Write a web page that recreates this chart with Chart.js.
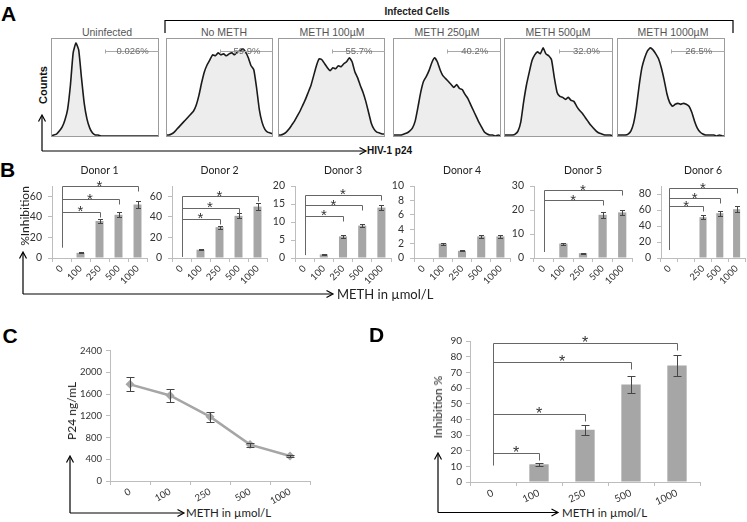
<!DOCTYPE html>
<html>
<head>
<meta charset="utf-8">
<title>METH inhibition of HIV-1 p24</title>
<script src="https://cdn.jsdelivr.net/npm/chart.js@4.4.1/dist/chart.umd.min.js"></script>
<style>
  html, body { margin: 0; padding: 0; background: #fff; }
  #fig { position: relative; width: 747px; height: 522px; overflow: hidden; }
  #fig canvas { position: absolute; }
  #fig svg { position: absolute; left: 0; top: 0; }
  .lbl { position: absolute; white-space: nowrap; line-height: 1; font-family: Lato, "Liberation Sans", sans-serif; color: #222; }
  .c { transform: translate(-50%, -50%); }
  .l { transform: translate(0, -50%); }
  .v { transform: translate(-50%, -50%) rotate(-90deg); }
  .big { font-family: "Liberation Sans", Arial, sans-serif; font-weight: bold; font-size: 21px; color: #000; }
  .ar { font-family: "Liberation Sans", Arial, sans-serif; }
</style>
</head>
<body>
<div id="fig">
<svg width="747" height="522" fill="none" stroke="#000" stroke-width="1.2">
  <path d="M165 33V20.5H733V33"/>
  <path d="M42 151V116M42 151H365"/>
  <path d="M38.5 121.5L42 115L45.5 121.5M359.5 147.5L366 151L359.5 154.5"/>
  <path d="M23 294V253M23 294H332"/>
  <path d="M19.5 258.5L23 252L26.5 258.5M326.5 290.5L333 294L326.5 297.5"/>
  <path d="M70 513V457M70 513H183"/>
  <path d="M66.5 462.5L70 456L73.5 462.5M177.5 509.5L184 513L177.5 516.5"/>
  <path d="M438 512.5V454M438 512.5H557"/>
  <path d="M434.5 459.5L438 453L441.5 459.5M551.5 509L558 512.5L551.5 516"/>
</svg>
</div>
<script>
// ---------- data ----------
const flowTitles = ['Uninfected', 'No METH', 'METH 100µM', 'METH 250µM', 'METH 500µM', 'METH 1000µM'];
const flowPercents = ['0.026%', '59.9%', '55.7%', '40.2%', '32.0%', '26.5%'];

// histogram heights (% of box height), 40 bins across the HIV-1 p24 axis
const histUninfected = [1, 2, 3, 6, 10, 17, 28, 52, 85, 95, 88, 60, 34, 18, 9, 4, 2, 2, 1, 1,
                        1, 1, 1, 1, 1, 1, 1, 1, 1, 1, 1, 1, 1, 1, 1, 1, 1, 1, 1, 1];
const histNoMeth = [2, 2, 3, 5, 8, 11, 14, 17, 20, 23, 26, 32, 42, 55, 66, 73, 78, 83, 82, 85,
                    83, 84, 82, 84, 85, 83, 86, 87, 89, 86, 80, 72, 68, 50, 28, 15, 8, 5, 4, 3];
const hist100 = [2, 2, 3, 5, 8, 12, 16, 21, 26, 32, 38, 45, 52, 62, 72, 79, 78, 74, 70, 67,
                 70, 69, 72, 71, 74, 76, 80, 76, 66, 60, 52, 45, 36, 25, 14, 8, 5, 4, 3, 3];
const hist250 = [2, 2, 2, 2, 3, 4, 6, 9, 16, 30, 45, 56, 61, 67, 75, 80, 76, 68, 62, 59,
                 56, 53, 50, 53, 49, 48, 43, 39, 33, 27, 21, 15, 10, 5, 3, 2, 2, 1, 2, 1];
const hist500 = [2, 2, 2, 2, 3, 6, 15, 35, 52, 65, 77, 83, 86, 84, 90, 84, 82, 78, 60, 45,
                 41, 40, 38, 40, 37, 36, 31, 27, 24, 20, 16, 12, 9, 6, 4, 3, 2, 2, 2, 1];
const hist1000 = [2, 2, 2, 2, 3, 6, 14, 30, 52, 70, 80, 87, 90, 88, 84, 79, 70, 58, 44, 35,
                  31, 33, 34, 33, 34, 33, 31, 25, 16, 9, 5, 3, 2, 2, 2, 2, 1, 2, 1, 1];
const gateStart = 19.5;   // bin where the p24+ gate begins
const gateLevel = 87;

const methDoses = ['0', '100', '250', '500', '1000'];
const donor6Doses = ['0', '', '250', '500', '1000'];
const donorNames = ['Donor 1', 'Donor 2', 'Donor 3', 'Donor 4', 'Donor 5', 'Donor 6'];

const donor1 = [0, 5, 36, 42, 52];
const donor1Err = [0, 0.4, 2, 2.5, 3];
const donor2 = [0, 8, 30, 41, 50];
const donor2Err = [0, 0.4, 1.5, 2.5, 3];
const donor3 = [0, 1, 6, 9, 14];
const donor3Err = [0, 0.1, 0.4, 0.5, 0.8];
const donor4 = [0, 2, 1, 3, 3];
const donor4Err = [0, 0.15, 0.05, 0.2, 0.2];
const donor5 = [0, 6, 2, 18, 19];
const donor5Err = [0, 0.4, 0.2, 1.2, 1];
const donor6 = [0, 0, 51, 56, 61];
const donor6Err = [0, 0, 2.5, 3, 3.5];

const donor1Ticks = [0, 20, 40, 60];
const donor2Ticks = [0, 20, 40, 60];
const donor3Ticks = [0, 5, 10, 15, 20];
const donor4Ticks = [0, 2, 4, 6, 8, 10];
const donor5Ticks = [0, 10, 20, 30];
const donor6Ticks = [0, 20, 40, 60, 80];
const donorMax = [70, 70, 20, 10, 30, 90];

// significance brackets: [dose index, bracket height]
const donor1Sig = [[2, 45], [3, 57], [4, 70]];
const donor2Sig = [[2, 38], [3, 49], [4, 60]];
const donor3Sig = [[2, 11.7], [3, 14.7], [4, 17.6]];
const donor4Sig = [];
const donor5Sig = [[3, 24], [4, 28.3]];
const donor6Sig = [[2, 65], [3, 75], [4, 87]];
const donorSigBase = [10, 1, 0.8, 0, 2.5, 10];

const p24 = [1780, 1575, 1185, 670, 460];
const p24Err = [130, 120, 90, 35, 20];
const p24Ticks = [0, 400, 800, 1200, 1600, 2000, 2400];

const inhibition = [0, 11.3, 33.4, 62.3, 74.3];
const inhibitionErr = [0, 0.9, 3.2, 5.6, 6.9];
const inhibitionTicks = [0, 10, 20, 30, 40, 50, 60, 70, 80, 90];
const inhibitionSig = [[1, 18.7], [2, 43.6], [3, 76.6], [4, 88.7]];

// ---------- layout ----------
const fig = document.getElementById('fig');
Chart.defaults.font.family = 'Lato';
Chart.defaults.color = '#333';

function text(str, x, y, cls, css) {
  const d = document.createElement('div');
  d.className = 'lbl ' + cls;
  d.textContent = str;
  d.style.left = x + 'px';
  d.style.top = y + 'px';
  if (css) d.style.cssText += css;
  fig.appendChild(d);
}

function canvasFor(a, yW, xH, padT, padR) {
  const c = document.createElement('canvas');
  const w = a.r - a.l + yW + padR, h = a.b - a.t + padT + xH;
  c.width = w; c.height = h;
  c.style.left = (a.l - yW) + 'px';
  c.style.top = (a.t - padT) + 'px';
  c.style.width = w + 'px';
  c.style.height = h + 'px';
  fig.appendChild(c);
  return c;
}

// ---------- plugins ----------
const flowBox = {
  id: 'flowBox',
  afterDraw(chart, args, o) {
    const a = chart.chartArea, ctx = chart.ctx, xs = chart.scales.x, ys = chart.scales.y;
    ctx.save();
    ctx.strokeStyle = '#9c9c9c';
    ctx.lineWidth = 1;
    ctx.strokeRect(a.left + 0.5, a.top + 0.5, a.right - a.left - 1, a.bottom - a.top - 1);
    const gy = Math.round(ys.getPixelForValue(o.level)) + 0.5;
    const gx = Math.round(xs.getPixelForValue(o.start)) + 0.5;
    ctx.strokeStyle = '#a8a8a8';
    ctx.beginPath();
    ctx.moveTo(gx, gy); ctx.lineTo(a.right, gy);
    ctx.moveTo(gx, gy - 2); ctx.lineTo(gx, gy + 2);
    ctx.stroke();
    ctx.fillStyle = '#6a6a6a';
    ctx.font = '9.5px "Liberation Sans"';
    ctx.textAlign = 'center';
    ctx.textBaseline = 'middle';
    ctx.fillText(o.label, xs.getPixelForValue(o.labelAt), gy);
    ctx.restore();
  }
};

const errorBars = {
  id: 'errorBars',
  afterDatasetsDraw(chart, args, o) {
    const meta = chart.getDatasetMeta(0), ys = chart.scales.y, ctx = chart.ctx;
    ctx.save();
    ctx.strokeStyle = o.color;
    ctx.lineWidth = 1;
    chart.data.datasets[0].data.forEach((v, i) => {
      const e = o.errs[i];
      if (!e) return;
      const x = Math.round(meta.data[i].x) + 0.5;
      const y1 = Math.round(ys.getPixelForValue(v + e)) + 0.5;
      const y2 = Math.round(ys.getPixelForValue(v - e)) + 0.5;
      ctx.beginPath();
      ctx.moveTo(x, y1); ctx.lineTo(x, y2);
      ctx.moveTo(x - o.cap, y1); ctx.lineTo(x + o.cap, y1);
      ctx.moveTo(x - o.cap, y2); ctx.lineTo(x + o.cap, y2);
      ctx.stroke();
    });
    ctx.restore();
  }
};

const sigBrackets = {
  id: 'sigBrackets',
  afterDatasetsDraw(chart, args, o) {
    if (!o.items || !o.items.length) return;
    const xs = chart.scales.x, ys = chart.scales.y, ctx = chart.ctx;
    const x0 = Math.round(xs.getPixelForValue(0)) + 0.5;
    const top = Math.max(...o.items.map(s => s[1]));
    ctx.save();
    ctx.strokeStyle = o.color;
    ctx.lineWidth = 1;
    ctx.beginPath();
    ctx.moveTo(x0, ys.getPixelForValue(o.base));
    ctx.lineTo(x0, Math.round(ys.getPixelForValue(top)) + 0.5);
    o.items.forEach(([idx, lvl]) => {
      const yl = Math.round(ys.getPixelForValue(lvl)) + 0.5;
      const xi = Math.round(xs.getPixelForValue(idx)) + 0.5;
      ctx.moveTo(x0, yl); ctx.lineTo(xi, yl); ctx.lineTo(xi, yl + o.drop);
    });
    ctx.stroke();
    ctx.fillStyle = '#333';
    ctx.font = o.starFont;
    ctx.textAlign = 'center';
    ctx.textBaseline = 'alphabetic';
    o.items.forEach(([idx, lvl]) => {
      const xm = (xs.getPixelForValue(0) + xs.getPixelForValue(idx)) / 2;
      ctx.fillText('*', xm, ys.getPixelForValue(lvl) + o.starDy);
    });
    ctx.restore();
  }
};

function xAxis(s) {
  return {
    afterFit: a => { a.height = s.xH; },
    offset: true,
    grid: { offset: true, drawOnChartArea: false, tickLength: 4, color: '#bdbdbd' },
    border: { color: '#bdbdbd' },
    ticks: { autoSkip: false, minRotation: s.rot, maxRotation: s.rot, font: { size: s.xFont }, color: '#333', padding: 1 }
  };
}

function yAxis(max, ticks, s) {
  return {
    min: 0, max: max,
    afterBuildTicks: a => { a.ticks = ticks.map(v => ({ value: v })); },
    afterFit: a => { a.width = s.yW; },
    grid: { drawOnChartArea: false, tickLength: 4, color: '#bdbdbd' },
    border: { color: '#bdbdbd' },
    ticks: { autoSkip: false, font: { size: s.yFont }, color: '#333', padding: s.yPad, callback: v => String(v) }
  };
}

function baseOpts(s, max, ticks, errs, cap, sig, base) {
  return {
    responsive: false, animation: false, devicePixelRatio: 1,
    layout: { padding: { top: s.padT, right: s.padR, left: 0, bottom: 0 } },
    scales: { x: xAxis(s), y: yAxis(max, ticks, s) },
    plugins: {
      legend: { display: false }, tooltip: { enabled: false },
      errorBars: { errs: errs, cap: cap, color: '#454545' },
      sigBrackets: { items: sig, base: base, color: s.sigColor, drop: s.drop, starFont: s.starFont, starDy: s.starDy }
    }
  };
}

// ---------- A: flow histograms ----------
const flowSeries = [histUninfected, histNoMeth, hist100, hist250, hist500, hist1000];
const flowBoxes = [[51, 38, 108, 99], [166, 38, 107, 99], [278, 38, 107, 99], [393, 38, 108, 99], [504, 38, 109, 99], [617, 38, 108, 99]];
const flowTitleX = [107, 224, 332, 447, 558, 673];

flowSeries.forEach((vals, k) => {
  const [l, t, w, h] = flowBoxes[k];
  const cv = canvasFor({ l: l, t: t, r: l + w, b: t + h }, 0, 0, 0, 0);
  new Chart(cv, {
    type: 'line',
    data: {
      labels: vals.map((_, i) => i),
      datasets: [{ data: vals, borderColor: '#1b1b1b', borderWidth: 1.6, backgroundColor: '#ededed', fill: 'origin', pointRadius: 0, tension: 0.15 }]
    },
    options: {
      responsive: false, animation: false, devicePixelRatio: 1,
      layout: { padding: 0 },
      scales: { x: { display: false, offset: false }, y: { display: false, min: 0, max: 100 } },
      plugins: {
        legend: { display: false }, tooltip: { enabled: false },
        flowBox: { level: gateLevel, start: gateStart, label: flowPercents[k], labelAt: 29.5 }
      }
    },
    plugins: [flowBox]
  });
  text(flowTitles[k], flowTitleX[k], 32, 'c ar', 'font-size:10.5px;color:#555;');
});

text('A', 8.5, 12.5, 'c big');
text('Infected Cells', 417, 12, 'c ar', 'font-size:10px;font-weight:bold;color:#222;');
text('Counts', 42.5, 85, 'v ar', 'font-size:11px;font-weight:bold;color:#111;');
text('HIV-1 p24', 367, 151, 'l ar', 'font-size:10px;font-weight:bold;color:#111;');

// ---------- B: donors ----------
const donorVals = [donor1, donor2, donor3, donor4, donor5, donor6];
const donorErrs = [donor1Err, donor2Err, donor3Err, donor4Err, donor5Err, donor6Err];
const donorTicks = [donor1Ticks, donor2Ticks, donor3Ticks, donor4Ticks, donor5Ticks, donor6Ticks];
const donorSig = [donor1Sig, donor2Sig, donor3Sig, donor4Sig, donor5Sig, donor6Sig];
const donorAreas = [[52, 147], [172, 267], [295, 391], [414, 510], [534, 632], [661, 745]];
const donorStyle = { yW: 26, xH: 26, padT: 16, padR: 12, rot: 45, xFont: 9.5, yFont: 10.5, yPad: 6,
                     sigColor: '#666', drop: 5, starFont: '15px "Liberation Sans"', starDy: 4.5 };

donorVals.forEach((vals, k) => {
  const area = { l: donorAreas[k][0], r: donorAreas[k][1], t: 186, b: 258 };
  const cv = canvasFor(area, donorStyle.yW, donorStyle.xH, donorStyle.padT, donorStyle.padR);
  new Chart(cv, {
    type: 'bar',
    data: {
      labels: k === 5 ? donor6Doses : methDoses,
      datasets: [{ data: vals, backgroundColor: '#a6a6a6', borderWidth: 0, barPercentage: 0.42, categoryPercentage: 1 }]
    },
    options: baseOpts(donorStyle, donorMax[k], donorTicks[k], donorErrs[k], 2.5, donorSig[k], donorSigBase[k]),
    plugins: [errorBars, sigBrackets]
  });
  text(donorNames[k], (area.l + area.r) / 2, 170, 'c', 'font-size:10.5px;color:#222;');
});

text('B', 7.5, 168.5, 'c big');
text('%Inhibition', 25, 216, 'v', 'font-size:12px;');
text('METH in µmol/L', 337, 294, 'l', 'font-size:13px;');

// ---------- C: p24 line ----------
const cStyle = { yW: 40, xH: 24, padT: 8, padR: 12, rot: 30, xFont: 9.5, yFont: 9.5, yPad: 4,
                 sigColor: '#666', drop: 6, starFont: '15px "Liberation Sans"', starDy: 4.5 };
const cCanvas = canvasFor({ l: 110, r: 310, t: 349, b: 481 }, cStyle.yW, cStyle.xH, cStyle.padT, cStyle.padR);
new Chart(cCanvas, {
  type: 'line',
  data: {
    labels: methDoses,
    datasets: [{ data: p24, borderColor: '#a6a6a6', borderWidth: 2.5, pointStyle: 'rectRot', pointRadius: 4.5,
                 pointBackgroundColor: '#a6a6a6', pointBorderWidth: 0, tension: 0 }]
  },
  options: baseOpts(cStyle, 2400, p24Ticks, p24Err, 4, [], 0),
  plugins: [errorBars]
});
text('C', 10, 335, 'c big');
text('P24 ng/mL', 72, 411, 'v', 'font-size:12px;');
text('METH in µmol/L', 186, 513, 'l', 'font-size:11.5px;');

// ---------- D: inhibition bars ----------
const dStyle = { yW: 32, xH: 24, padT: 16, padR: 12, rot: 25, xFont: 10, yFont: 10, yPad: 4,
                 sigColor: '#666', drop: 7, starFont: '16px "Liberation Sans"', starDy: 5 };
const dCanvas = canvasFor({ l: 470, r: 700, t: 341, b: 482 }, dStyle.yW, dStyle.xH, dStyle.padT, dStyle.padR);
new Chart(dCanvas, {
  type: 'bar',
  data: {
    labels: methDoses,
    datasets: [{ data: inhibition, backgroundColor: '#a6a6a6', borderWidth: 0, barPercentage: 0.42, categoryPercentage: 1 }]
  },
  options: baseOpts(dStyle, 90, inhibitionTicks, inhibitionErr, 4, inhibitionSig, 10.5),
  plugins: [errorBars, sigBrackets]
});
text('D', 376.5, 333.5, 'c big');
text('Inhibition %', 438, 407, 'v', 'font-size:12px;');
text('METH in µmol/L', 562, 512.5, 'l', 'font-size:11.5px;');
</script>
</body>
</html>
